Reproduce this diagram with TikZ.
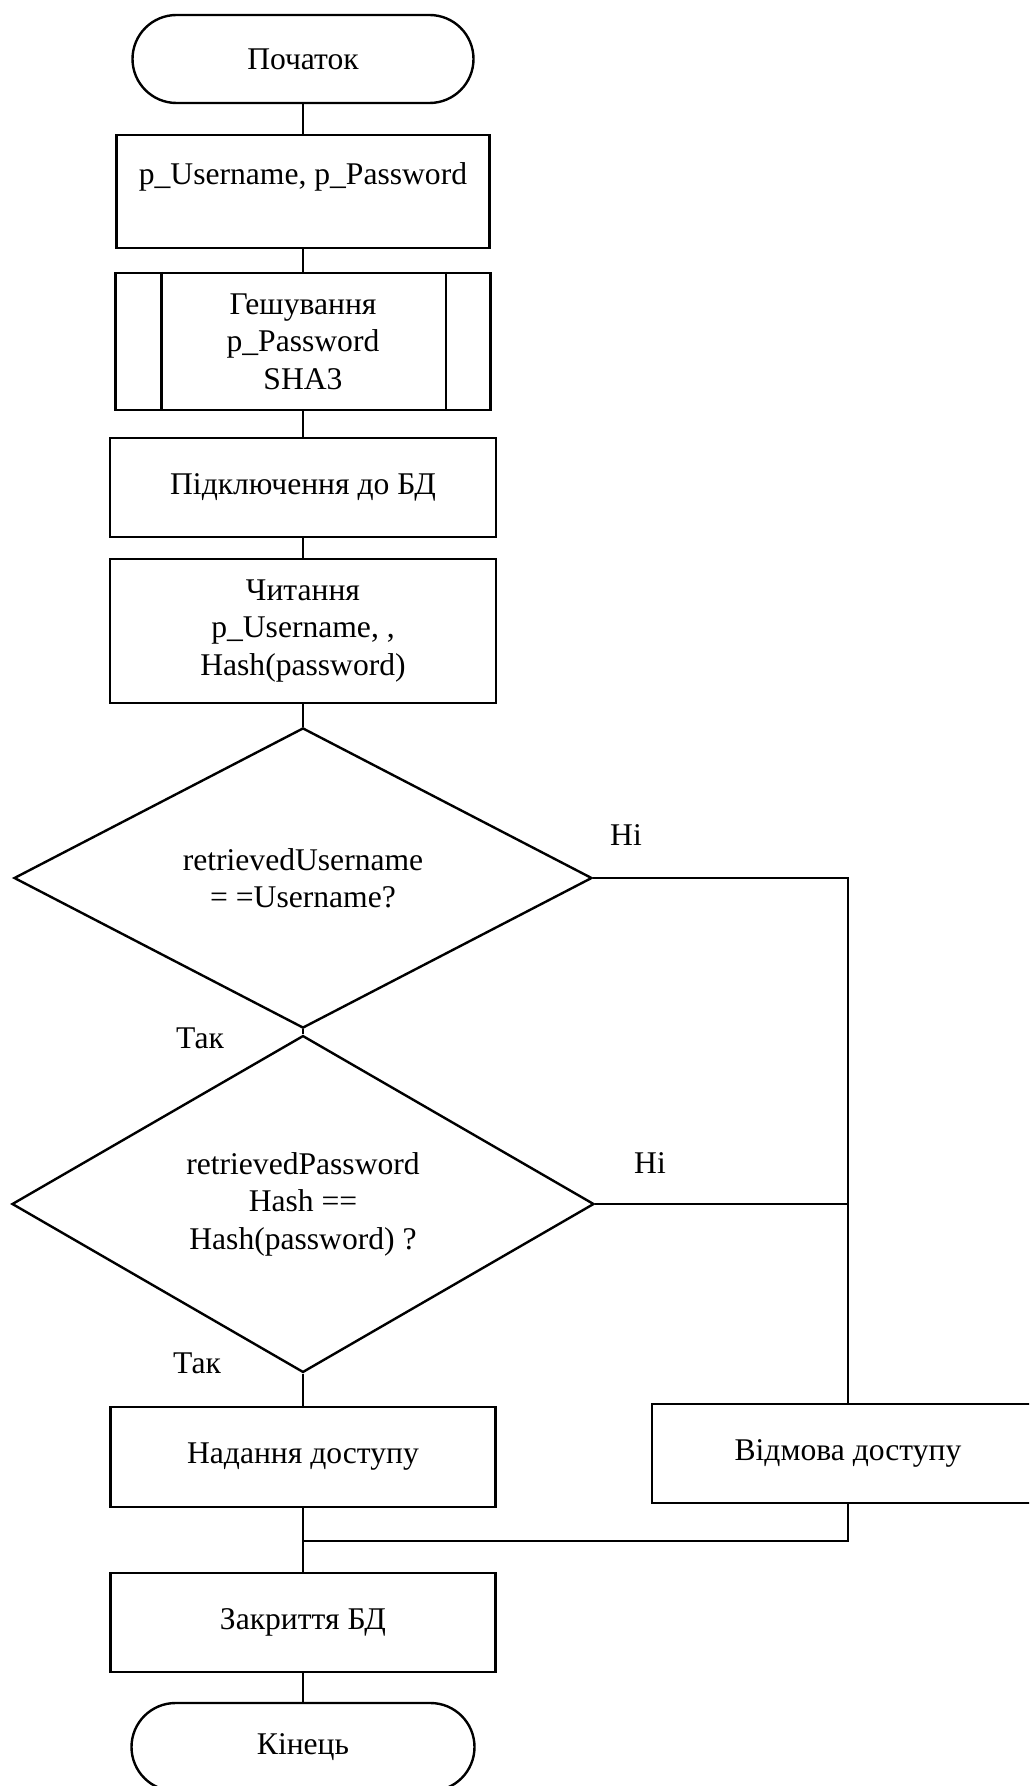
\documentclass[tikz,border=0pt]{standalone}
\usepackage{fontspec}
\setmainfont{Liberation Serif}
\usetikzlibrary{shapes.geometric}

\begin{document}
\begin{tikzpicture}[x=0.5pt, y=-0.5pt, line width=1.2pt,
  every node/.style={font=\fontsize{15.8pt}{18.7pt}\selectfont, align=center, inner sep=0pt},
  term/.style={draw, rectangle, rounded corners=22pt, minimum width=170.5pt, minimum height=44pt},
  proc/.style={draw, rectangle, minimum width=193pt, minimum height=50pt},
  decide/.style={draw, diamond, minimum width=289pt, minimum height=148pt},
  lbl/.style={}]
\path[use as bounding box, clip] (0,0) rectangle (1029,1786);

% main column
\node[term] (start) at (303,59) {Початок};
\node[proc, minimum width=186.5pt, minimum height=56.5pt] (in1) at (303,191.5) {};
\node[lbl] (in1t) at (303,177) {p\_Username, p\_Password};
\node[proc, minimum width=187.5pt, minimum height=68.5pt] (sub) at (303,341.5) {Гешування\\p\_Password\\SHA3};
\draw ([xshift=23.5pt]sub.north west) -- ([xshift=23.5pt]sub.south west);
\draw ([xshift=-23pt]sub.north east) -- ([xshift=-23pt]sub.south east);
\node[proc, minimum width=193pt, minimum height=49.5pt] (db) at (303,487.5) {Підключення до БД};
\node[proc, minimum width=193pt, minimum height=72pt] (read) at (303,631) {Читання\\p\_Username, ,\\Hash(password)};
\node[decide] (d1) at (303,878) {retrievedUsername\\= =Username?};
\node[decide, minimum width=291pt] (d2) at (303,1204) {retrievedPassword\\Hash ==\\Hash(password) ?};
\node[proc, minimum width=192.5pt, minimum height=50pt] (grant) at (303,1457) {Надання доступу};
\node[proc, minimum width=196pt, minimum height=49.5pt] (deny) at (848,1453.5) {Відмова доступу};
\node[proc, minimum width=192.5pt, minimum height=49.5pt] (close) at (303,1622.5) {Закриття БД};
\node[term, minimum width=171.5pt] (end) at (303,1747) {Кінець};

% branch labels
\node[lbl] (no1) at (626,835) {Ні};
\node[lbl] (no2) at (650,1163) {Ні};
\node[lbl] (yes1) at (200,1038) {Так};
\node[lbl] (yes2) at (197,1363) {Так};

\coordinate (merge) at (303,1541);

% connectors
\draw (start) -- (in1);
\draw (in1) -- (sub);
\draw (sub) -- (db);
\draw (db) -- (read);
\draw (read) -- (d1);
\draw (d1) -- (d2);
\draw (d2) -- (grant);
\draw (grant) -- (close);
\draw (close) -- (end);
\draw (d1.east) -| (deny.north);
\draw (d2.east) -- (deny.north |- d2.east);
\draw (deny.south) |- (merge);
\end{tikzpicture}
\end{document}
